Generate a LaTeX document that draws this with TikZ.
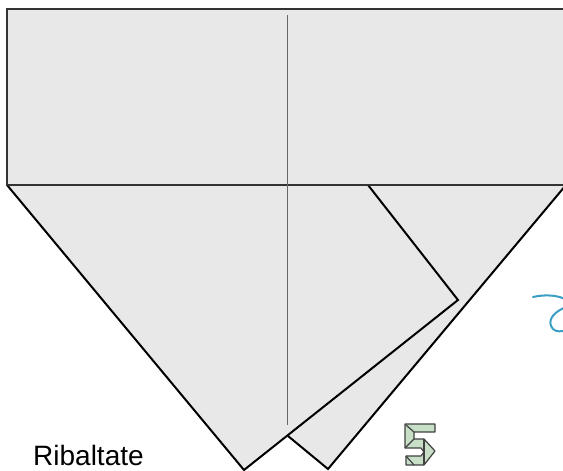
\documentclass[tikz,border=0pt]{standalone}
\usepackage{fontspec}
\setmainfont{Liberation Sans}
\usepackage{xcolor}
\usepackage{tikz}

\definecolor{paper}{HTML}{E8E8E8}
\definecolor{curl}{HTML}{3A9EC4}
\definecolor{iconfill}{HTML}{C6DFC6}

\begin{document}
\begin{tikzpicture}[
    x=1pt, y=-1pt,
    fold/.style={draw=black, line width=2pt, line join=miter},
    sheet/.style={fill=paper, draw=black!80, line width=2.2pt},
    crease/.style={draw=black!60, line width=0.9pt},
    arrowcurl/.style={draw=curl, line width=2pt, line cap=round},
    icon/.style={fill=iconfill, draw=black!75, line width=1.2pt, line join=round},
    caption/.style={anchor=base west, inner sep=0pt, font=\fontsize{28}{32}\selectfont},
]

\useasboundingbox (0,0) rectangle (563,471);
\clip (0,0) rectangle (563,471);

% Punti di riferimento
\coordinate (tl) at (7,9);
\coordinate (br) at (600,185);
\coordinate (fl) at (7,185);
\coordinate (fa) at (244,470);
\coordinate (fc) at (458,300);
\coordinate (ft) at (368,185);
\coordinate (bs) at (288,436);
\coordinate (ba) at (328,469);
\coordinate (br2) at (566,185);

% Strato dietro
\path[fill=paper] (bs) -- (ba) -- (br2) -- (300,185) -- cycle;
\draw[fold] (bs) -- (ba) -- (br2);

% Lembo davanti
\path[fill=paper] (fl) -- (fa) -- (fc) -- (ft) -- cycle;
\draw[fold] (fl) -- (fa) -- (fc) -- (ft);

% Rettangolo in alto
\draw[sheet] (tl) rectangle (br);

% Piega centrale
\draw[crease] (287,15) -- (287,425);

% Freccia curva
\draw[arrowcurl] (533,297) .. controls (555,292) and (575,300) .. (566,307)
    .. controls (556,311) and (548,318) .. (551,326)
    .. controls (553,331) and (558,332) .. (563,331);

% Icona 5
\draw[icon] (405,424) -- (435,424) -- (435,432) -- (414,432) -- (414,439)
    -- (424,439) -- (435,451) -- (424,465) -- (406,465) -- (406,456)
    -- (421,456) -- (424,452) -- (421,448) -- (405,448) -- cycle;
\draw[icon] (406,425) -- (414,432);
\draw[icon] (414,439) -- (405,448);
\draw[icon] (424,439) -- (424,465);
\draw[icon] (406,456) -- (414,465);

% Didascalia
\node[caption] (label) at (33,465) {Ribaltate};

\end{tikzpicture}
\end{document}
